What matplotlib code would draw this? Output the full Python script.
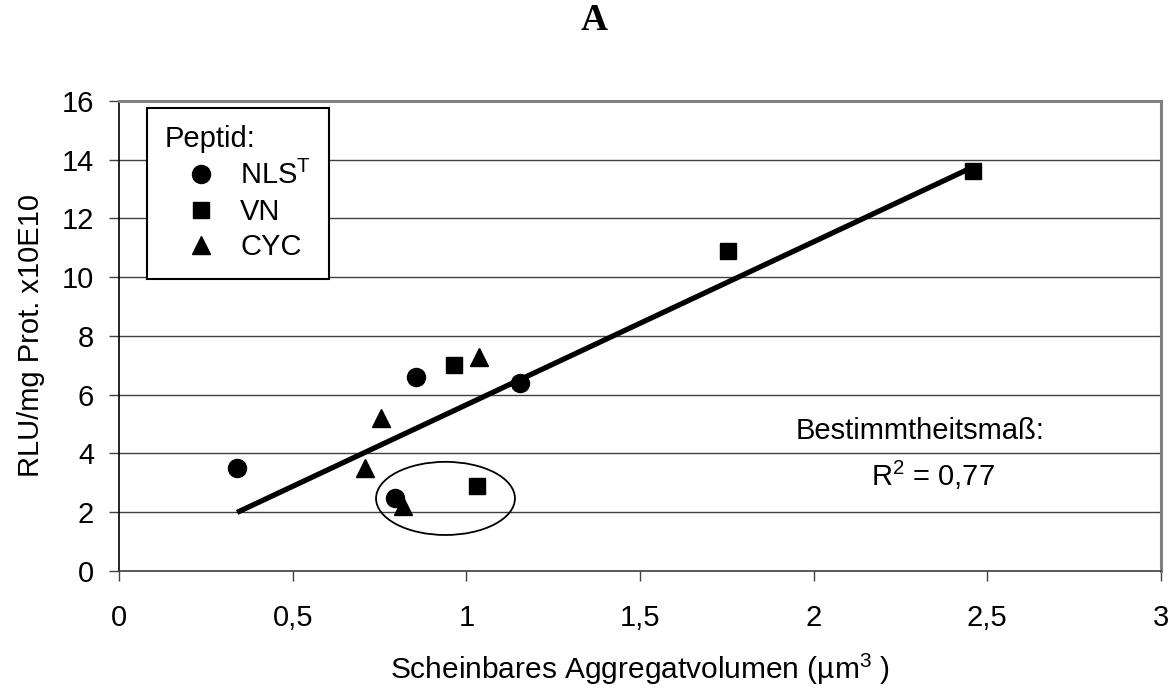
import numpy as np
import matplotlib
matplotlib.use("Agg")
import matplotlib.pyplot as plt
from matplotlib.patches import Ellipse
from matplotlib.ticker import FuncFormatter

plt.rcParams['font.family'] = ['Liberation Sans', 'DejaVu Sans']
plt.rcParams['mathtext.fontset'] = 'custom'
plt.rcParams['mathtext.rm'] = 'Liberation Sans'
plt.rcParams['mathtext.it'] = 'Liberation Sans'

# ---- data ----
nls_x = [0.34, 0.854, 1.155, 0.795]
nls_y = [3.5, 6.6, 6.4, 2.5]
vn_x = [0.965, 1.032, 1.754, 2.46]
vn_y = [7.0, 2.9, 10.9, 13.6]
cyc_x = [1.037, 0.755, 0.707, 0.817]
cyc_y = [7.3, 5.2, 3.5, 2.2]

x_ticks = [0, 0.5, 1, 1.5, 2, 2.5, 3]
y_ticks = [0, 2, 4, 6, 8, 10, 12, 14, 16]

# highlight ellipse (data units)
ell_center = (0.94, 2.47)
ell_width = 0.40
ell_height = 2.49

FS = 21

fig = plt.figure(figsize=(11.76, 6.91), dpi=100)
ax = fig.add_axes([0.1012, 0.1737, 0.886, 0.6802])

ax.set_xlim(0, 3)
ax.set_ylim(0, 16)
ax.set_xticks(x_ticks)
ax.set_yticks(y_ticks)
ax.xaxis.set_major_formatter(FuncFormatter(lambda v, p: ('%g' % v).replace('.', ',')))

ax.grid(axis='y', color='#404040', lw=1.0, zorder=0)
ax.set_axisbelow(True)

for s in ['top', 'right']:
    ax.spines[s].set_color('#808080')
    ax.spines[s].set_linewidth(2.2)
ax.spines['left'].set_color('black')
ax.spines['left'].set_linewidth(1.2)
ax.spines['bottom'].set_color('#404040')
ax.spines['bottom'].set_linewidth(1.2)

ax.tick_params(axis='both', direction='out', length=7, width=1.0, labelsize=FS, color='#404040')
ax.tick_params(axis='x', pad=17)
ax.tick_params(axis='y', pad=11)

# trend line through all points
all_x = np.array(nls_x + vn_x + cyc_x)
all_y = np.array(nls_y + vn_y + cyc_y)
m, b = np.polyfit(all_x, all_y, 1)
xs = np.array([all_x.min(), all_x.max()])
ax.plot(xs, m * xs + b, color='black', lw=3.8, solid_capstyle='butt', zorder=3)

h1, = ax.plot(nls_x, nls_y, 'o', color='black', ms=13, ls='none', zorder=4, label='NLS$^\\mathrm{T}$')
h2, = ax.plot(vn_x, vn_y, 's', color='black', ms=11, ls='none', zorder=4, label='VN')
h3, = ax.plot(cyc_x, cyc_y, '^', color='black', ms=13, ls='none', zorder=4, label='CYC')

ax.add_patch(Ellipse(ell_center, ell_width, ell_height, fill=False, edgecolor='black', lw=1.3, zorder=5))

leg = ax.legend(handles=[h1, h2, h3], title='Peptid:', loc='upper left',
                bbox_to_anchor=(28 / 1042, 1 - 7 / 470), fontsize=FS, title_fontsize=FS,
                frameon=True, fancybox=False, edgecolor='black', borderpad=0.6,
                labelspacing=0.26, handletextpad=0.1, handlelength=2.5,
                borderaxespad=0.0, alignment='left')
leg.get_frame().set_linewidth(1.5)
leg.get_frame().set_facecolor('white')
leg.get_frame().set_alpha(1)

ax.text(2.306, 4.77, 'Bestimmtheitsmaß:', fontsize=FS, ha='center', va='center')
ax.text(2.344, 3.27, 'R$^2$ = 0,77', fontsize=FS, ha='center', va='center')

ax.set_xlabel('Scheinbares Aggregatvolumen (µm$^3$ )', fontsize=21.5, labelpad=14)
ax.set_ylabel('RLU/mg Prot. x10E10', fontsize=FS, labelpad=12)

fig.text(593.7 / 1176, 1 - 21 / 691, 'A', fontsize=27, fontweight='bold',
         family='Liberation Serif', ha='center', va='center')

fig.savefig('out.png', dpi=100)
